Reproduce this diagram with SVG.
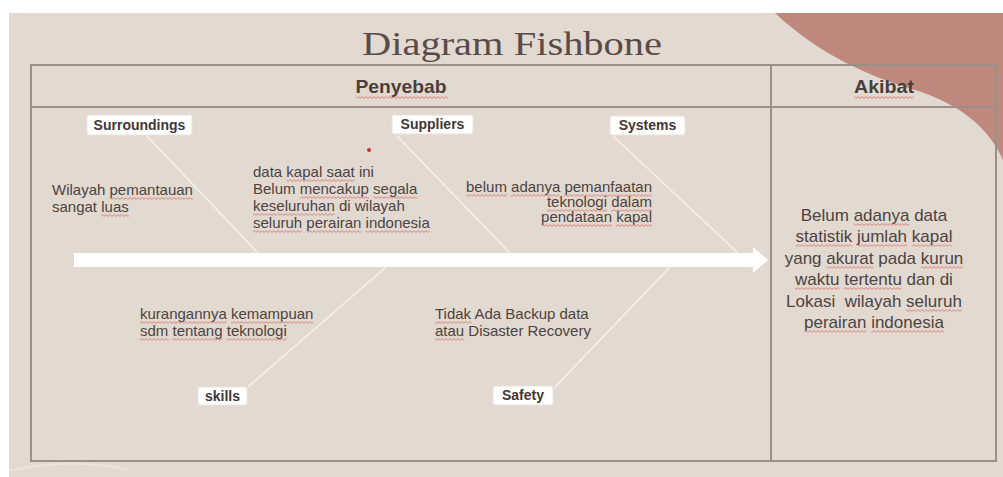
<svg xmlns="http://www.w3.org/2000/svg" width="1003" height="477" viewBox="0 0 1003 477">
<defs>
<style>
.bg{fill:#e2d9d0}
.blob{fill:#bf887c}
.grid{fill:none;stroke:#9b9089;stroke-width:2}
.title{font-family:"Liberation Serif","DejaVu Serif",serif;font-size:33px;fill:#5a4b49}
.head{font-family:"Liberation Sans",Arial,sans-serif;font-weight:bold;font-size:19px;fill:#4a3e3c;text-anchor:middle}
.lbox{fill:#ffffff;stroke:#e8e2dc;stroke-width:1}
.lbl{font-family:"Liberation Sans",Arial,sans-serif;font-weight:bold;font-size:14px;fill:#3f3736;text-anchor:middle}
.txt{font-family:"Liberation Sans",Arial,sans-serif;font-size:15px;fill:#4d4341}
.eff{font-family:"Liberation Sans",Arial,sans-serif;font-size:17px;fill:#4d4341;text-anchor:middle}
.bone{stroke:#f6f1ec;stroke-width:1.6;fill:none}
.spine{fill:#ffffff}
.sq{fill:url(#wave)}
</style>
<pattern id="wave" patternUnits="userSpaceOnUse" x="0" y="0" width="4" height="3">
<path d="M0,2.4 L2,0.6 L4,2.4" fill="none" stroke="#d65a55" stroke-width="0.8" stroke-opacity="0.85"/>
</pattern>
</defs>
<rect width="1003" height="477" fill="#ffffff"/>
<rect class="bg" x="9" y="13" width="994" height="464"/>
<path d="M9,471 C45,462 95,461 128,470" fill="none" stroke="#ebe4dc" stroke-width="2"/>
<path class="blob" d="M775,13 C820,55 868,76 918,91 C958,104 988,126 1003,160 L1003,13 Z"/>
<text class="title" x="512" y="55" text-anchor="middle" textLength="300" lengthAdjust="spacingAndGlyphs">Diagram Fishbone</text>
<g id="table">
<rect class="grid" x="31" y="65" width="965" height="396"/>
<line class="grid" x1="31" y1="107" x2="996" y2="107"/>
<line class="grid" x1="771" y1="65" x2="771" y2="461"/>
<text class="head" x="401" y="93" textLength="91" lengthAdjust="spacingAndGlyphs">Penyebab</text>
<text class="head" x="884" y="93" textLength="60" lengthAdjust="spacingAndGlyphs">Akibat</text>
</g>
<g id="connectors">
<path class="spine" d="M74,253 L753,253 L753,247 L768,260 L753,273 L753,267 L74,267 Z"/>
<line class="bone" x1="147" y1="136" x2="257" y2="252"/>
<line class="bone" x1="397" y1="136" x2="509" y2="252"/>
<line class="bone" x1="613" y1="136" x2="737" y2="252"/>
<line class="bone" x1="386" y1="267" x2="248" y2="387"/>
<line class="bone" x1="669" y1="268" x2="554" y2="388"/>
</g>
<g id="surroundings">
<rect class="lbox" x="87" y="115" width="105" height="20" rx="2"/>
<text class="lbl" x="139.5" y="130">Surroundings</text>
</g>
<g id="suppliers">
<rect class="lbox" x="392" y="115" width="81" height="19" rx="2"/>
<text class="lbl" x="432.5" y="129">Suppliers</text>
</g>
<g id="systems">
<rect class="lbox" x="610" y="116" width="75" height="19" rx="2"/>
<text class="lbl" x="647.5" y="130">Systems</text>
</g>
<g id="skills">
<rect class="lbox" x="198" y="387" width="49" height="18" rx="2"/>
<text class="lbl" x="222.5" y="401">skills</text>
</g>
<g id="safety">
<rect class="lbox" x="493" y="386" width="60" height="19" rx="2"/>
<text class="lbl" x="523" y="400">Safety</text>
</g>
<g id="cause-surroundings">
<text class="txt" x="52" y="195">Wilayah pemantauan</text>
<text class="txt" x="52" y="212">sangat luas</text>
</g>
<g id="cause-suppliers">
<circle cx="369" cy="150" r="2" fill="#c0392b"/>
<text class="txt" x="253" y="177">data kapal saat ini</text>
<text class="txt" x="253" y="194">Belum mencakup segala</text>
<text class="txt" x="253" y="211">keseluruhan di wilayah</text>
<text class="txt" x="253" y="228">seluruh perairan indonesia</text>
</g>
<g id="cause-systems">
<text class="txt" x="652" y="192" text-anchor="end">belum adanya pemanfaatan</text>
<text class="txt" x="652" y="207" text-anchor="end">teknologi dalam</text>
<text class="txt" x="652" y="222" text-anchor="end">pendataan kapal</text>
</g>
<g id="cause-skills">
<text class="txt" x="140" y="319">kurangannya kemampuan</text>
<text class="txt" x="140" y="336">sdm tentang teknologi</text>
</g>
<g id="cause-safety">
<text class="txt" x="435" y="319">Tidak Ada Backup data</text>
<text class="txt" x="435" y="336">atau Disaster Recovery</text>
</g>
<g id="effect">
<text class="eff" x="874" y="221">Belum adanya data</text>
<text class="eff" x="874" y="242">statistik jumlah kapal</text>
<text class="eff" x="874" y="264">yang akurat pada kurun</text>
<text class="eff" x="874" y="285">waktu tertentu dan di</text>
<text class="eff" x="874" y="307" xml:space="preserve">Lokasi  wilayah seluruh</text>
<text class="eff" x="874" y="328">perairan indonesia</text>
</g>
<g id="spellcheck">
<rect class="sq" transform="translate(0,96)" x="356.5" y="0" width="91" height="3"/>
<rect class="sq" transform="translate(0,96)" x="854" y="0" width="60" height="3"/>
<rect class="sq" transform="translate(0,197)" x="109.5" y="0" width="83.5" height="3"/>
<rect class="sq" transform="translate(0,214)" x="101" y="0" width="28" height="3"/>
<rect class="sq" transform="translate(0,179)" x="286.4" y="0" width="68.5" height="3"/>
<rect class="sq" transform="translate(0,196)" x="299.7" y="0" width="69.2" height="3"/>
<rect class="sq" transform="translate(0,196)" x="373.1" y="0" width="44.2" height="3"/>
<rect class="sq" transform="translate(0,213)" x="253" y="0" width="81.7" height="3"/>
<rect class="sq" transform="translate(0,230)" x="253" y="0" width="49.2" height="3"/>
<rect class="sq" transform="translate(0,230)" x="306.4" y="0" width="55" height="3"/>
<rect class="sq" transform="translate(0,230)" x="365.6" y="0" width="64.2" height="3"/>
<rect class="sq" transform="translate(0,194)" x="466" y="0" width="40.8" height="3"/>
<rect class="sq" transform="translate(0,194)" x="511" y="0" width="49.2" height="3"/>
<rect class="sq" transform="translate(0,194)" x="564.4" y="0" width="87.6" height="3"/>
<rect class="sq" transform="translate(0,209)" x="547" y="0" width="60" height="3"/>
<rect class="sq" transform="translate(0,209)" x="611.2" y="0" width="40.8" height="3"/>
<rect class="sq" transform="translate(0,224)" x="541" y="0" width="70.9" height="3"/>
<rect class="sq" transform="translate(0,224)" x="616.1" y="0" width="35.9" height="3"/>
<rect class="sq" transform="translate(0,321)" x="140" y="0" width="86.7" height="3"/>
<rect class="sq" transform="translate(0,321)" x="230.9" y="0" width="82.5" height="3"/>
<rect class="sq" transform="translate(0,338)" x="140" y="0" width="28.3" height="3"/>
<rect class="sq" transform="translate(0,338)" x="172.5" y="0" width="50" height="3"/>
<rect class="sq" transform="translate(0,338)" x="226.7" y="0" width="60" height="3"/>
<rect class="sq" transform="translate(0,321)" x="435" y="0" width="36.7" height="3"/>
<rect class="sq" transform="translate(0,338)" x="435" y="0" width="29.2" height="3"/>
<rect class="sq" transform="translate(0,223)" x="853.7" y="0" width="55.8" height="3"/>
<rect class="sq" transform="translate(0,244)" x="795.6" y="0" width="56.7" height="3"/>
<rect class="sq" transform="translate(0,244)" x="857" y="0" width="50.1" height="3"/>
<rect class="sq" transform="translate(0,244)" x="911.8" y="0" width="40.6" height="3"/>
<rect class="sq" transform="translate(0,266)" x="826.3" y="0" width="47.2" height="3"/>
<rect class="sq" transform="translate(0,266)" x="920.8" y="0" width="42.5" height="3"/>
<rect class="sq" transform="translate(0,287)" x="795.1" y="0" width="44.4" height="3"/>
<rect class="sq" transform="translate(0,287)" x="844.2" y="0" width="57.6" height="3"/>
<rect class="sq" transform="translate(0,309)" x="906.1" y="0" width="55.7" height="3"/>
<rect class="sq" transform="translate(0,330)" x="804.1" y="0" width="62.4" height="3"/>
<rect class="sq" transform="translate(0,330)" x="871.2" y="0" width="72.8" height="3"/>
</g>
</svg>
